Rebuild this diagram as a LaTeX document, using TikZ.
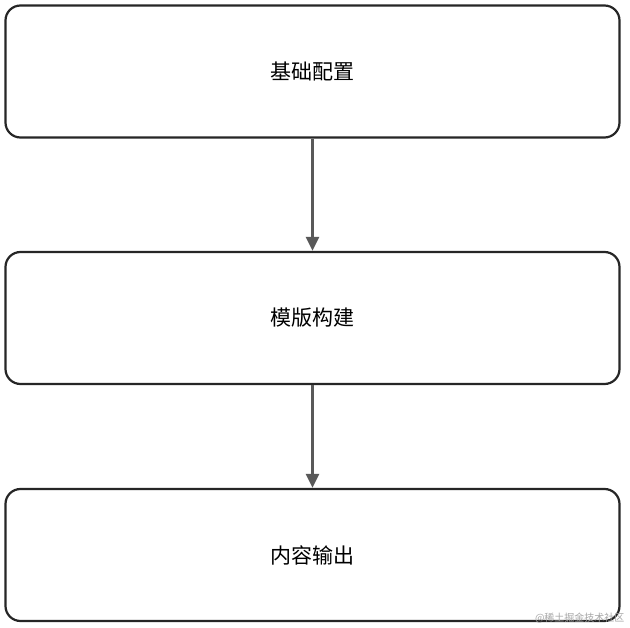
\documentclass[tikz,border=0pt]{standalone}
\usepackage{fontspec}
\newfontfamily\cjk{Noto Sans CJK SC}
\usetikzlibrary{arrows.meta}
\tikzset{
  stage/.style={draw=black!85,line width=2.2pt,rounded corners=15pt,fill=white,
    minimum width=614pt,minimum height=132pt,font=\cjk\fontsize{21}{25}\selectfont},
  flow/.style={-{Triangle[length=14pt,width=13pt]},line width=2.6pt,draw=black!65}
}
\begin{document}
\begin{tikzpicture}
\useasboundingbox[fill=white] (0pt,0pt) rectangle (630pt,-628pt);
\node[stage](base) at (312.5pt,-71.5pt){基础配置};
\node[stage](tmpl) at (312.5pt,-318pt){模版构建};
\node[stage](out) at (312.5pt,-555pt){内容输出};
\draw[flow] (base) -- (tmpl);
\draw[flow] (tmpl) -- (out);
\node[anchor=south east,text=black!35,font=\cjk\fontsize{10}{12}\selectfont](mark) at (628pt,-627pt){@稀土掘金技术社区};
\end{tikzpicture}
\end{document}
